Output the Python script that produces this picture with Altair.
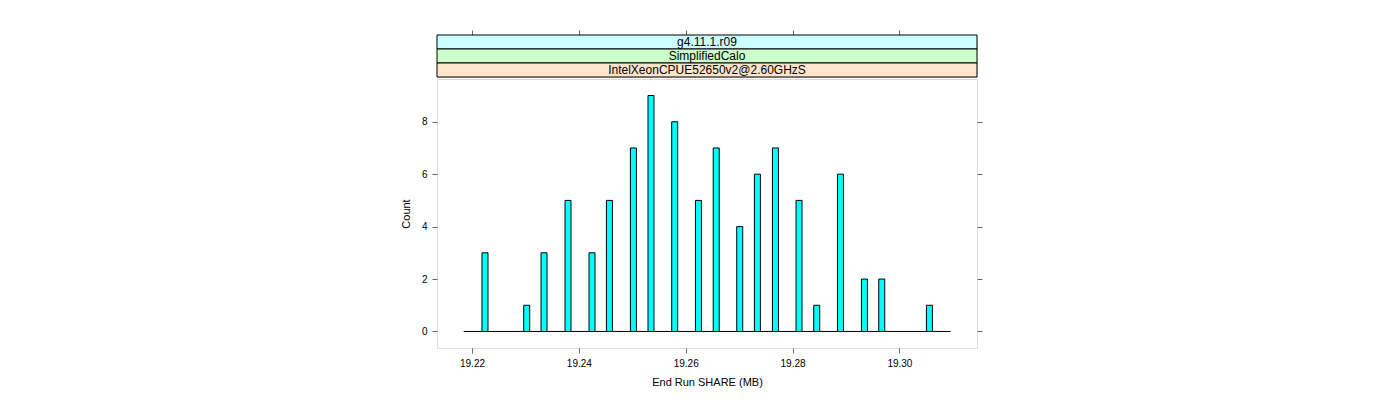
import altair as alt
import pandas as pd

# Histogram bins (left edge of each non-empty bin, MB) and counts
bin_left = [19.22187, 19.22968, 19.23292, 19.23741, 19.24190, 19.24516, 19.24965,
            19.25294, 19.25738, 19.26182, 19.26515, 19.26955, 19.27286, 19.27623,
            19.28065, 19.28396, 19.28840, 19.29289, 19.29613, 19.30505]
counts = [3, 1, 3, 5, 3, 5, 7, 9, 8, 5, 7, 4, 6, 7, 5, 1, 6, 2, 2, 1]
bin_width = 0.001123
hist_range = [19.21845, 19.30960]

x_ticks = [19.22, 19.24, 19.26, 19.28, 19.30]
y_ticks = [0, 2, 4, 6, 8]
x_domain = [19.21345, 19.31452]
y_domain = [-0.63, 9.63]

strip_labels = ["g4.11.1.r09", "SimplifiedCalo", "IntelXeonCPUE52650v2@2.60GHzS"]
strip_colors = ["#CCFFFF", "#CCFFCC", "#FFE5CC"]

FONT = "Liberation Sans"
GRID = "#666666"

hist_df = pd.DataFrame({
    "x1": bin_left,
    "x2": [b + bin_width for b in bin_left],
    "count": counts,
})
base_df = pd.DataFrame({"a": [hist_range[0]], "b": [hist_range[1]], "z": [0]})
strip_df = pd.DataFrame({
    "label": strip_labels,
    "lo": [x_domain[0]] * 3,
    "hi": [x_domain[1]] * 3,
    "mid": [(x_domain[0] + x_domain[1]) / 2] * 3,
})

xs = alt.Scale(domain=x_domain, nice=False, zero=False)
ys = alt.Scale(domain=y_domain, nice=False, zero=False)

W, H_MAIN, H_STRIP = 540, 269, 42

top_axis = alt.Axis(orient="top", values=x_ticks, labels=False, ticks=True,
                    tickSize=5, domain=False, grid=False, title=None,
                    tickColor=GRID)
bottom_axis = alt.Axis(orient="bottom", values=x_ticks, format=".2f", tickSize=5,
                       domain=False, grid=False, title="End Run SHARE (MB)",
                       labelPadding=5, titlePadding=8, tickColor=GRID,
                       titleFontWeight="normal")

# --- strips ---
strip_y = alt.Y("label:N", sort=strip_labels,
                scale=alt.Scale(domain=strip_labels, paddingInner=0, paddingOuter=0),
                axis=None)
strip_rect = alt.Chart(strip_df).mark_rect(stroke="black", strokeWidth=1).encode(
    x=alt.X("lo:Q", scale=xs, axis=top_axis, title=None),
    x2="hi",
    y=strip_y,
    color=alt.Color("label:N", scale=alt.Scale(domain=strip_labels, range=strip_colors),
                    legend=None),
)
strip_text = alt.Chart(strip_df).mark_text(font=FONT, fontSize=12, color="black",
                                           baseline="middle", align="center").encode(
    x=alt.X("mid:Q", scale=xs, axis=top_axis, title=None),
    y=strip_y,
    text="label:N",
)
strips = alt.layer(strip_rect, strip_text).properties(width=W, height=H_STRIP)

# --- main panel ---
baseline = alt.Chart(base_df).mark_rule(color="black", strokeWidth=1).encode(
    x=alt.X("a:Q", scale=xs, axis=bottom_axis, title="End Run SHARE (MB)"),
    x2="b",
    y=alt.Y("z:Q", scale=ys,
            axis=alt.Axis(orient="right", values=y_ticks, labels=False, tickSize=5,
                          domain=False, grid=False, title=None, tickColor=GRID)),
)
bars = alt.Chart(hist_df).mark_rect(fill="#00FFFF", stroke="black", strokeWidth=1).encode(
    x=alt.X("x1:Q", scale=xs, axis=bottom_axis, title="End Run SHARE (MB)"),
    x2="x2",
    y=alt.Y("count:Q", scale=ys,
            axis=alt.Axis(orient="left", values=y_ticks, tickSize=5, labelAngle=0,
                          domain=False, grid=False, title="Count", labelPadding=5,
                          titlePadding=10, tickColor=GRID, titleFontWeight="normal")),
    y2=alt.datum(0),
)
main = alt.layer(baseline, bars).resolve_axis(y="independent").properties(
    width=W, height=H_MAIN)

chart = alt.vconcat(strips, main, spacing=0).properties(
    padding={"left": 391, "top": 21, "right": 5, "bottom": 5}
).configure_view(stroke=GRID, strokeWidth=1).configure_axis(
    labelFont=FONT, titleFont=FONT, labelFontSize=10, titleFontSize=12,
    labelColor="black", titleColor="black", titleFontWeight="normal",
).configure(background="white")

chart.save("out.html", embed_options={"renderer": "svg", "actions": False})
